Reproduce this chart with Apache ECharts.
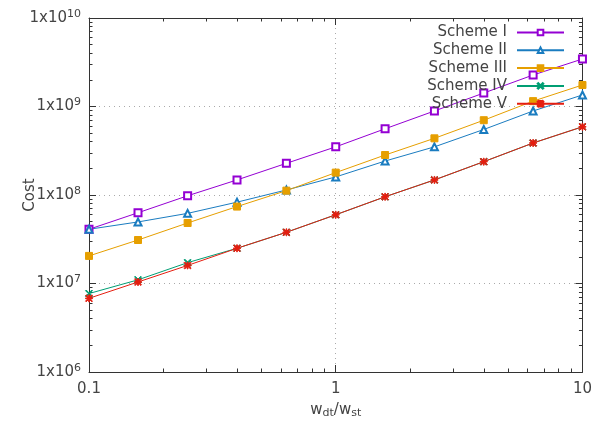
<!DOCTYPE html>
<html>
<head>
<meta charset="utf-8">
<script src="https://cdn.jsdelivr.net/npm/echarts@6/dist/echarts.min.js"></script>
<style>
html,body{margin:0;padding:0;background:#fff;}
#main{width:595px;height:429px;}
</style>
</head>
<body>
<div id="main"></div>
<script>
// data
var xs = [0.1, 0.158, 0.251, 0.398, 0.631, 1, 1.585, 2.512, 3.981, 6.31, 10];
var scheme1 = [4.1e7, 6.3e7, 9.8e7, 1.48e8, 2.28e8, 3.5e8, 5.6e8, 8.9e8, 1.42e9, 2.27e9, 3.44e9];
var scheme2 = [4.1e7, 4.96e7, 6.2e7, 8.3e7, 1.14e8, 1.6e8, 2.42e8, 3.5e8, 5.5e8, 8.9e8, 1.35e9];
var scheme3 = [2.05e7, 3.1e7, 4.83e7, 7.4e7, 1.12e8, 1.79e8, 2.83e8, 4.37e8, 7.0e8, 1.15e9, 1.75e9];
var scheme4 = [7.7e6, 1.1e7, 1.72e7, 2.5e7, 3.79e7, 5.98e7, 9.55e7, 1.48e8, 2.38e8, 3.87e8, 5.9e8];
var scheme5 = [6.8e6, 1.04e7, 1.6e7, 2.5e7, 3.79e7, 5.98e7, 9.55e7, 1.48e8, 2.38e8, 3.87e8, 5.9e8];
var names = ['Scheme I', 'Scheme II', 'Scheme III', 'Scheme IV', 'Scheme V'];
var xMajor = [0.1, 1, 10];
var yMajor = [1e6, 1e7, 1e8, 1e9, 1e10];

var colors = ['#9400d3', '#1a7cc0', '#e69f00', '#009e73', '#e51e10'];
var crossPath = 'path://M0,1L1,0L5,4L9,0L10,1L6,5L10,9L9,10L5,6L1,10L0,9L4,5Z';
var starPath = 'path://M0,1L1,0L5,4L9,0L10,1L6,5L10,9L9,10L5,6L1,10L0,9L4,5Z M4.45,0L5.55,0L5.55,10L4.45,10Z M0,4.45L10,4.45L10,5.55L0,5.55Z';
var symbols = ['emptyRect', 'emptyTriangle', 'rect', crossPath, starPath];
var symSizes = [7, 7, 7, 7, 7];

// minor ticks 2..9 in each decade
function minors(lo, hi) {
	var out = [];
	for (var d = lo; d < hi; d *= 10) {
		for (var k = 2; k <= 9; k++) out.push(+(k * d).toPrecision(3));
	}
	return out;
}
var xMinor = minors(0.1, 10);
var yMinor = minors(1e6, 1e10);

var font = 'DejaVu Sans';
var axisCol = '#333';
var txtCol = '#444';

function pairs(ys) {
	return xs.map(function (x, i) { return [x, ys[i]]; });
}
var allY = [scheme1, scheme2, scheme3, scheme4, scheme5];

function xAx(pos, major, showLine, labels) {
	return {
		type: 'log', logBase: 10, min: 0.1, max: 10, position: pos,
		axisLine: { show: showLine, onZero: false, lineStyle: { color: axisCol, width: 1 } },
		axisTick: { show: true, inside: true, length: major ? 7 : 3.5, customValues: major ? xMajor : xMinor, lineStyle: { color: axisCol } },
		axisLabel: { show: labels, customValues: xMajor, margin: 10, color: txtCol, fontFamily: font, fontSize: 15 },
		splitLine: { show: labels, lineStyle: { color: '#aaa', type: [1, 4], width: 1 } },
		name: labels ? 'w{sub|dt}/w{sub|st}' : '',
		nameLocation: 'middle', nameGap: 29, nameMoveOverlap: false,
		nameTextStyle: {
			color: txtCol, fontFamily: font, fontSize: 15,
			rich: { sub: { fontSize: 11, verticalAlign: 'bottom', padding: [7, 0, 0, 0], fontFamily: font, color: txtCol } }
		}
	};
}
function yAx(pos, major, showLine, labels) {
	return {
		type: 'log', logBase: 10, min: 1e6, max: 1e10, position: pos,
		axisLine: { show: showLine, onZero: false, lineStyle: { color: axisCol, width: 1 } },
		axisTick: { show: true, inside: true, length: major ? 7 : 3.5, customValues: major ? yMajor : yMinor, lineStyle: { color: axisCol } },
		axisLabel: {
			show: labels, customValues: yMajor, margin: 8, color: txtCol, fontFamily: font, fontSize: 15,
			formatter: function (v) { return '1x10{sup|' + Math.round(Math.log10(v)) + '}'; },
			rich: { sup: { fontSize: 11, verticalAlign: 'top', padding: [0, 0, 8, 0], fontFamily: font, color: txtCol } }
		},
		splitLine: { show: labels, lineStyle: { color: '#aaa', type: [1, 4], width: 1 } },
		name: labels ? 'Cost' : '',
		nameLocation: 'middle', nameGap: 51, nameMoveOverlap: false,
		nameTextStyle: { color: txtCol, fontFamily: font, fontSize: 15 }
	};
}

var legends = names.map(function (n, i) {
	return {
		data: [n], right: 30, top: 25 + i * 17.8, align: 'right', orient: 'vertical',
		itemWidth: 47, itemHeight: 7, padding: 0,
		textStyle: { fontFamily: font, fontSize: 15, color: txtCol, padding: [0, 5, 0, 0] }
	};
});

var series = names.map(function (n, i) {
	return {
		name: n, type: 'line', xAxisIndex: 0, yAxisIndex: 0,
		data: pairs(allY[i]),
		symbol: symbols[i], symbolSize: symSizes[i],
		lineStyle: { color: colors[i], width: 1 },
		itemStyle: { color: colors[i], borderColor: colors[i], borderWidth: 1 },
		showAllSymbol: true, animation: false
	};
});

var myChart = echarts.init(document.getElementById('main'), null, { renderer: 'canvas' });
var option = {
	backgroundColor: '#fff',
	animation: false,
	grid: { left: 89, right: 9, top: 18, bottom: 57, containLabel: false },
	legend: legends,
	xAxis: [xAx('bottom', true, true, true), xAx('bottom', false, false, false), xAx('top', true, true, false), xAx('top', false, false, false)],
	yAxis: [yAx('left', true, true, true), yAx('left', false, false, false), yAx('right', true, true, false), yAx('right', false, false, false)],
	series: series
};
myChart.setOption(option);
</script>
</body>
</html>
